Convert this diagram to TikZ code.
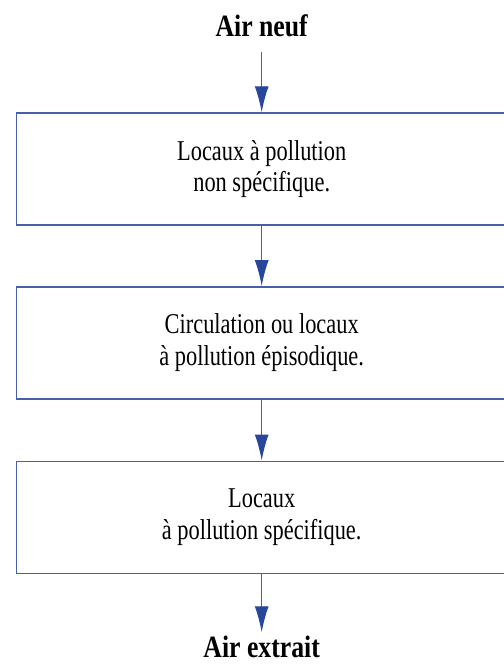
\documentclass[tikz,border=0pt]{standalone}
\usepackage{fontspec}
\setmainfont{Liberation Serif}[FakeStretch=0.78]
\newfontfamily\headfont{Liberation Serif Bold}[FakeStretch=0.83]
\usetikzlibrary{arrows.meta}
\definecolor{lineblue}{RGB}{70,96,170}
\definecolor{tipblue}{RGB}{40,70,155}
\tikzset{
  room/.style={draw=lineblue,line width=1.4pt,minimum width=491pt,minimum height=112pt,
    align=center,font=\fontsize{28.7}{31.5}\selectfont},
  airlabel/.style={anchor=base,inner sep=0pt,font=\headfont\fontsize{31}{33}\selectfont},
  flow/.style={draw=lineblue,line width=1.3pt,-{Latex[length=26pt,width=14pt,color=tipblue]}}
}
\begin{document}
\begin{tikzpicture}[x=1pt,y=1pt]
\clip (0,0) rectangle (504,-665);

% entree et sortie d'air
\node[airlabel] (neuf) at (261.7,-36.7) {Air neuf};
\node[airlabel] (extrait) at (261.7,-657) {Air extrait};

% locaux
\node[room] (nonspec) at (261.7,-169) {Locaux à pollution\\non spécifique.};
\node[room] (episod) at (261.7,-342.8) {Circulation ou locaux\\à pollution épisodique.};
\node[room] (spec) at (261.7,-517.2) {Locaux\\à pollution spécifique.};

% cheminement de l'air
\draw[flow,shorten <=15pt] (neuf) -- (nonspec);
\draw[flow] (nonspec) -- (episod);
\draw[flow] (episod) -- (spec);
\draw[flow,shorten >=3pt] (spec) -- (extrait);

\end{tikzpicture}
\end{document}
